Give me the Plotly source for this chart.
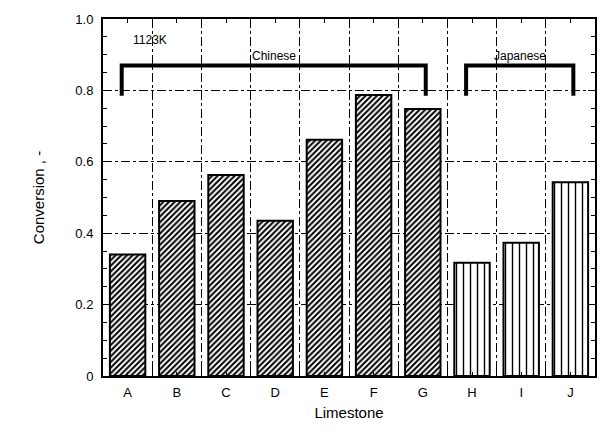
import plotly.graph_objects as go

# Conversion of each limestone at 1123 K
limestones = ["A", "B", "C", "D", "E", "F", "G", "H", "I", "J"]
origin = ["Chinese"] * 7 + ["Japanese"] * 3
conversion = [0.34, 0.49, 0.563, 0.435, 0.662, 0.787, 0.748, 0.317, 0.373, 0.543]

y_ticks = [0, 0.2, 0.4, 0.6, 0.8, 1.0]
y_ticktext = ["0", "0.2", "0.4", "0.6", "0.8", "1.0"]

FONT = "Liberation Sans, Arial, sans-serif"

fig = go.Figure()

groups = {
    "Chinese": dict(shape="/", size=4, solidity=0.5),
    "Japanese": dict(shape="|", size=7, solidity=0.2),
}
for name, pat in groups.items():
    idx = [i for i, o in enumerate(origin) if o == name]
    fig.add_trace(go.Bar(
        x=idx,
        y=[conversion[i] for i in idx],
        width=0.72,
        marker=dict(
            color="white",
            line=dict(color="black", width=2),
            pattern=dict(shape=pat["shape"], fgcolor="black", bgcolor="white",
                         size=pat["size"], solidity=pat["solidity"], fillmode="replace"),
        ),
        name=name,
        showlegend=False,
    ))

# Group brackets with labels
brackets = [("Chinese", 0, 6), ("Japanese", 7, 9)]
top, foot = 0.87, 0.785
for label, first, last in brackets:
    x0, x1 = first - 0.12, last + 0.06
    fig.add_shape(type="path",
                  path=f"M {x0},{foot} L {x0},{top} L {x1},{top} L {x1},{foot}",
                  line=dict(color="black", width=4), xref="x", yref="y")
    fig.add_annotation(x=(x0 + x1) / 2, y=top, text=label, showarrow=False,
                       yanchor="bottom", yshift=0, font=dict(size=12, color="black", family=FONT))

fig.add_annotation(x=0.45, y=0.94, text="1123K", showarrow=False,
                   font=dict(size=12, color="black", family=FONT))

fig.update_layout(
    width=604, height=442,
    margin=dict(l=103, r=7, t=19, b=66),
    plot_bgcolor="white", paper_bgcolor="white",
    font=dict(family=FONT, size=13, color="black"),
    xaxis=dict(
        range=[-0.5, 9.5],
        tickvals=list(range(len(limestones))), ticktext=limestones,
        ticks="inside", ticklen=4, tickcolor="black", ticklabelstandoff=3,
        showgrid=False, zeroline=False,
        showline=True, linecolor="black", linewidth=2, mirror="allticks",
        minor=dict(tick0=0.5, dtick=1, ticks="inside", ticklen=6, tickcolor="black",
                   showgrid=True, gridcolor="black", griddash="dashdot", gridwidth=1),
        title=dict(text="Limestone", font=dict(size=15), standoff=9),
        tickfont=dict(size=13),
    ),
    yaxis=dict(
        range=[0, 1.0],
        tickvals=y_ticks, ticktext=y_ticktext,
        ticks="inside", ticklen=7, tickcolor="black", ticklabelstandoff=5,
        showgrid=True, gridcolor="black", griddash="dashdot", gridwidth=1,
        zeroline=False,
        showline=True, linecolor="black", linewidth=2, mirror="allticks",
        minor=dict(dtick=0.05, ticks="inside", ticklen=4, tickcolor="black", showgrid=False),
        title=dict(text="Conversion , -", font=dict(size=15), standoff=27),
        tickfont=dict(size=13),
    ),
)

fig.write_html("out.html")
